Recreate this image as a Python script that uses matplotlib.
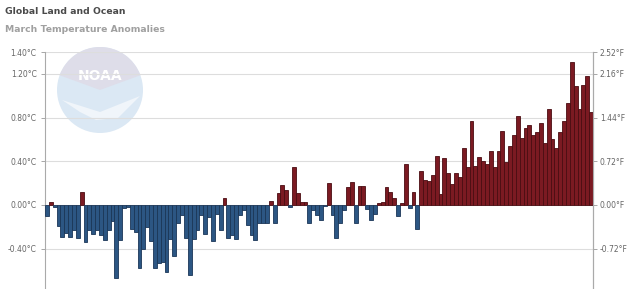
import matplotlib.pyplot as plt
from matplotlib.patches import Circle, Wedge
import numpy as np

years = list(range(1880, 2022))
anomalies_c = [
    -0.10, 0.03, -0.02, -0.19, -0.29, -0.26, -0.29, -0.23, -0.30, 0.12,
    -0.34, -0.23, -0.27, -0.23, -0.28, -0.32, -0.23, -0.15, -0.67, -0.32,
    -0.03, -0.02, -0.22, -0.25, -0.58, -0.40, -0.20, -0.33, -0.58, -0.53,
    -0.52, -0.61, -0.31, -0.47, -0.17, -0.09, -0.30, -0.64, -0.31, -0.23,
    -0.09, -0.27, -0.11, -0.33, -0.08, -0.23, 0.06, -0.30, -0.28, -0.31,
    -0.09, -0.05, -0.18, -0.28, -0.32, -0.17, -0.17, -0.17, 0.04, -0.17,
    0.11, 0.18, 0.14, -0.02, 0.35, 0.11, 0.03, 0.03, -0.17, -0.05,
    -0.09, -0.14, -0.01, 0.20, -0.09, -0.30, -0.17, -0.05, 0.16, 0.21,
    -0.17, 0.17, 0.17, -0.04, -0.14, -0.08, 0.02, 0.03, 0.16, 0.12,
    0.06, -0.10, 0.02, 0.37, -0.03, 0.12, -0.22, 0.31, 0.23, 0.22,
    0.27, 0.45, 0.10, 0.43, 0.29, 0.19, 0.29, 0.26, 0.52, 0.35,
    0.77, 0.36, 0.44, 0.40, 0.37, 0.49, 0.35, 0.49, 0.68, 0.39,
    0.54, 0.64, 0.81, 0.61, 0.70, 0.73, 0.64, 0.67, 0.75, 0.57,
    0.88, 0.60, 0.52, 0.67, 0.77, 0.93, 1.31, 1.09, 0.88, 1.10,
    1.18, 0.85,
]
ticks_c = [-0.40, 0.00, 0.40, 0.80, 1.20, 1.40]
labels_c = ['-0.40°C', '0.00°C', '0.40°C', '0.80°C', '1.20°C', '1.40°C']
labels_f = ['-0.72°F', '0.00°F', '0.72°F', '1.44°F', '2.16°F', '2.52°F']

W, H = 640, 289
fig = plt.figure(figsize=(W / 100, H / 100), dpi=100)
fig.patch.set_facecolor('white')

# NOAA watermark behind the plot
logo = fig.add_axes([0, 0, 1, 1], zorder=0)
logo.set_xlim(0, W)
logo.set_ylim(H, 0)
logo.axis('off')
logo.add_patch(Circle((100, 90), 43, facecolor='#dbe8f4', edgecolor='none'))
logo.add_patch(Wedge((100, 90), 43, 200, 340, facecolor='#dedde9', edgecolor='none'))
logo.text(100, 76, 'NOAA', color='white', ha='center', va='center',
          fontsize=10, fontweight='bold', family='DejaVu Sans')
logo.fill([62, 100, 140, 118, 96, 80], [100, 112, 96, 118, 120, 112],
          color='#f0f5fa', lw=0)

ax = fig.add_axes([45 / W, 0, 548 / W, (H - 52) / H], zorder=1)
ax.patch.set_alpha(0)
x = np.arange(len(years))
colors = ['#7b1a22' if v >= 0 else '#2c5683' for v in anomalies_c]
edges = ['#4a0d12' if v >= 0 else '#1b3657' for v in anomalies_c]
ax.bar(x, anomalies_c, width=1.0, color=colors, edgecolor=edges, linewidth=0.6, zorder=3)

ax.set_xlim(-0.5, len(years) - 0.5)
ax.set_ylim(-0.77, 1.40)
ax.set_yticks(ticks_c)
ax.set_yticklabels(labels_c)
ax.set_xticks([])
ax.grid(axis='y', color='#dddddd', linewidth=0.8, zorder=0)
ax.tick_params(axis='y', length=3, width=0.6, color='#999999', labelsize=5.5,
               labelcolor='#666666', pad=3)
for s in ['top', 'bottom']:
    ax.spines[s].set_visible(False)
for s in ['left', 'right']:
    ax.spines[s].set_color('#aaaaaa')
    ax.spines[s].set_linewidth(0.8)

ax2 = ax.twinx()
ax2.set_ylim(ax.get_ylim())
ax2.set_yticks(ticks_c)
ax2.set_yticklabels(labels_f)
ax2.tick_params(axis='y', length=3, width=0.6, color='#999999', labelsize=5.5,
                labelcolor='#666666', pad=2)
for s in ['top', 'bottom', 'left']:
    ax2.spines[s].set_visible(False)
ax2.spines['right'].set_color('#aaaaaa')
ax2.spines['right'].set_linewidth(0.8)

fig.text(5 / W, 1 - 12 / H, 'Global Land and Ocean', fontsize=6.7, fontweight='bold',
         color='#4a4a4a', va='center', ha='left')
fig.text(5 / W, 1 - 29 / H, 'March Temperature Anomalies', fontsize=6.7, fontweight='bold',
         color='#a0a0a0', va='center', ha='left')

fig.savefig('out.png', dpi=100, facecolor='white')
